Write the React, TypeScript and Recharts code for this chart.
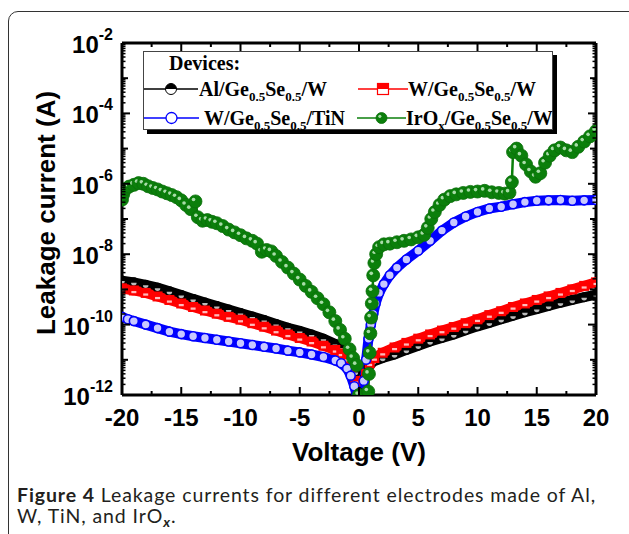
import React from "react";
import { LineChart, Line, XAxis, YAxis, Legend } from "recharts";

const SANS = '"Liberation Sans", Arial, sans-serif';
const SERIF = '"Liberation Serif", "Times New Roman", serif';

// voltage (V) and log10 of leakage current (A)
const alV = [-20, -19, -18, -17, -16, -15, -14, -13, -12, -11, -10, -9, -8, -7, -6, -5, -4, -3, -2, -1.5, -1, -0.6, -0.3, -0.1, 0.2, 0.5, 0.8, 1.2, 2, 3, 4, 5, 6, 7, 8, 9, 10, 11, 12, 13, 14, 15, 16, 17, 18, 19, 20];
const alLog = [-8.75, -8.8, -8.87, -8.95, -9.05, -9.16, -9.27, -9.37, -9.47, -9.57, -9.67, -9.77, -9.87, -9.98, -10.09, -10.18, -10.28, -10.4, -10.55, -10.65, -10.8, -11.0, -11.35, -11.9, -12, -11.5, -11.2, -11.05, -10.95, -10.85, -10.72, -10.6, -10.48, -10.38, -10.28, -10.16, -10.05, -9.95, -9.85, -9.75, -9.65, -9.56, -9.47, -9.38, -9.3, -9.22, -9.15];

const wV = [-20, -19, -18, -17, -16, -15, -14, -13, -12, -11, -10, -9, -8, -7, -6, -5, -4, -3, -2, -1.5, -1, -0.6, -0.3, -0.1, 0.3, 0.6, 0.9, 1.3, 2, 3, 4, 5, 6, 7, 8, 9, 10, 11, 12, 13, 14, 15, 16, 17, 18, 19, 20];
const wLog = [-8.97, -9.03, -9.1, -9.2, -9.3, -9.4, -9.5, -9.6, -9.69, -9.78, -9.86, -9.96, -10.06, -10.17, -10.28, -10.38, -10.48, -10.6, -10.72, -10.82, -10.97, -11.2, -11.6, -12, -12, -11.4, -11.1, -10.95, -10.8, -10.65, -10.52, -10.4, -10.28, -10.17, -10.07, -9.96, -9.85, -9.73, -9.62, -9.5, -9.4, -9.3, -9.2, -9.1, -9.0, -8.9, -8.8];

const tinV = [-20, -19.5, -19, -18, -17, -16, -15, -14, -13, -12, -11, -10, -9, -8, -7, -6, -5, -4, -3, -2, -1.5, -1, -0.7, -0.4, -0.2, 0.2, 0.4, 0.6, 0.8, 1.0, 1.2, 1.4, 1.7, 2.1, 2.6, 3.2, 4, 5, 6, 7, 8, 9, 10, 11, 12, 13, 14, 15, 16, 17, 18, 19, 20];
const tinLog = [-9.78, -9.85, -9.9, -10.0, -10.1, -10.2, -10.27, -10.33, -10.38, -10.43, -10.48, -10.53, -10.58, -10.63, -10.68, -10.74, -10.79, -10.85, -10.92, -11.02, -11.1, -11.25, -11.45, -11.75, -12, -12, -11.6, -11.0, -10.4, -10.0, -9.7, -9.4, -9.1, -8.85, -8.6, -8.38, -8.15, -7.9, -7.62, -7.33, -7.1, -6.93, -6.8, -6.7, -6.65, -6.58, -6.52, -6.48, -6.47, -6.46, -6.48, -6.47, -6.46];

const irV = [-20, -19.9, -19.7, -19.4, -19, -18.6, -18.2, -17.8, -17.4, -17, -16.6, -16.2, -15.8, -15.4, -15, -14.6, -14.2, -13.8, -13.6, -13.2, -12.8, -12.4, -12, -11.5, -11, -10.5, -10, -9.5, -9, -8.6, -8.2, -7.8, -7.4, -7, -6.5, -6, -5.5, -5, -4.5, -4, -3.5, -3, -2.5, -2, -1.6, -1.2, -0.8, -0.5, -0.2, 0, 0.78, 0.84, 0.9, 0.96, 1.02, 1.08, 1.14, 1.2, 1.3, 1.45, 1.7, 2.1, 2.6, 3.2, 3.8, 4.4, 5, 5.5, 5.8, 6.1, 6.4, 6.8, 7.2, 7.7, 8.2, 8.8, 9.4, 10, 10.6, 11.2, 11.8, 12.3, 12.7, 12.9, 13, 13.3, 13.7, 14.1, 14.5, 14.9, 15.3, 15.7, 16.1, 16.5, 17, 17.5, 18, 18.5, 19, 19.5, 20];
const irLog = [-6.45, -6.3, -6.15, -6.08, -6.03, -5.98, -6.0, -6.07, -6.12, -6.16, -6.22, -6.27, -6.32, -6.38, -6.47, -6.6, -6.72, -6.5, -6.95, -7.05, -7.03, -7.08, -7.12, -7.2, -7.3, -7.38, -7.46, -7.55, -7.62, -7.7, -7.93, -7.88, -7.92, -8.05, -8.22, -8.38, -8.55, -8.72, -8.9, -9.07, -9.25, -9.42, -9.65, -9.9, -10.15, -10.4, -10.7, -10.95, -11.15, -12, -11.9, -11.4, -10.8, -10.25, -9.8, -9.4, -9.05, -8.6, -8.25, -8.0, -7.8, -7.72, -7.7, -7.66, -7.62, -7.58, -7.52, -7.45, -7.25, -7.0, -6.8, -6.6, -6.45, -6.35, -6.3, -6.26, -6.23, -6.22, -6.2, -6.24, -6.26, -6.28, -6.25, -5.95, -5.1, -5.0, -5.2, -5.45, -5.65, -5.8, -5.7, -5.4, -5.2, -5.05, -4.97, -5.05, -5.1, -4.95, -4.8, -4.65, -4.5];

const xTicks = [-20, -17.5, -15, -12.5, -10, -7.5, -5, -2.5, 0, 2.5, 5, 7.5, 10, 12.5, 15, 17.5, 20];
const yExps = [-12, -11, -10, -9, -8, -7, -6, -5, -4, -3];

const toRows = (vs: number[], logs: number[]) =>
  vs.map((v, k) => ({ v, i: Math.pow(10, logs[k]) }));

const alData = toRows(alV, alLog);
const wData = toRows(wV, wLog);
const tinData = toRows(tinV, tinLog);
const irData = toRows(irV, irLog);

const yTicks: number[] = [];
yExps.forEach((e) => {
  for (let k = 1; k <= 9; k++) yTicks.push(k * Math.pow(10, e));
});
yTicks.push(1e-2);

const decadeOf = (val: number) => {
  const lg = Math.log10(val);
  const n = Math.round(lg);
  return { n, decade: Math.abs(lg - n) < 1e-6 };
};

const BottomTick = (p: any) => {
  const { x, y, payload } = p;
  const ay = y - 14;
  const major = Math.abs(payload.value % 5) < 1e-9;
  return (
    <g>
      <line x1={x} x2={x} y1={ay} y2={ay - (major ? 8 : 4)} stroke="#000" strokeWidth={2} />
      {major && (
        <text x={x} y={ay + 31} textAnchor="middle" fontFamily={SANS} fontWeight="bold" fontSize={24} fill="#000">
          {payload.value}
        </text>
      )}
    </g>
  );
};

const TopTick = (p: any) => {
  const { x, y, payload } = p;
  const major = Math.abs(payload.value % 5) < 1e-9;
  return <line x1={x} x2={x} y1={y} y2={y + (major ? 8 : 4)} stroke="#000" strokeWidth={2} />;
};

const LeftTick = (p: any) => {
  const { x, y, payload } = p;
  const ax = x + 9;
  const { n, decade } = decadeOf(payload.value);
  const len = decade ? (n % 2 === 0 ? 8 : 6) : 3.5;
  return (
    <g>
      <line x1={ax} x2={ax + len} y1={y} y2={y} stroke="#000" strokeWidth={decade ? 2 : 1.5} />
      {decade && n % 2 === 0 && (
        <text x={x} y={y + 10} textAnchor="end" fontFamily={SANS} fontWeight="bold" fontSize={24} fill="#000">
          10<tspan dy={-13} fontSize={16}>{n}</tspan>
        </text>
      )}
    </g>
  );
};

const RightTick = (p: any) => {
  const { x, y, payload } = p;
  const { n, decade } = decadeOf(payload.value);
  const len = decade ? (n % 2 === 0 ? 8 : 6) : 3.5;
  return <line x1={x} x2={x - len} y1={y} y2={y} stroke="#000" strokeWidth={decade ? 2 : 1.5} />;
};

// markers used on the curves (dense, mostly filled so the bands read solid)
const alMark = (cx: number, cy: number, r: number) => (
  <>
    <circle cx={cx} cy={cy} r={r} fill="#000" />
    <path d={`M${cx - r * 0.55},${cy + 0.5} A${r * 0.55},${r * 0.55} 0 0 0 ${cx + r * 0.55},${cy + 0.5} Z`} fill="#bbb" />
  </>
);
const wMark = (cx: number, cy: number, r: number) => (
  <>
    <rect x={cx - r} y={cy - r} width={2 * r} height={2 * r} fill="#f00" />
    <rect x={cx - r * 0.5} y={cy + 0.5} width={r} height={r * 0.45} fill="#fbb" />
  </>
);
const tinMark = (cx: number, cy: number, r: number) => (
  <circle cx={cx} cy={cy} r={r} fill="#c8c8ff" stroke="#0000ff" strokeWidth={1.6} />
);

// markers used in the legend
const halfCircle = (cx: number, cy: number, r: number) => (
  <>
    <circle cx={cx} cy={cy} r={r} fill="#fff" stroke="#000" strokeWidth={1} />
    <path d={`M${cx - r},${cy} A${r},${r} 0 0 1 ${cx + r},${cy} Z`} fill="#000" />
  </>
);
const halfSquare = (cx: number, cy: number, r: number) => (
  <>
    <rect x={cx - r} y={cy - r} width={2 * r} height={2 * r} fill="#fff" stroke="#f00" strokeWidth={1.2} />
    <rect x={cx - r} y={cy - r} width={2 * r} height={r} fill="#f00" />
  </>
);
const openCircle = (cx: number, cy: number, r: number) => (
  <circle cx={cx} cy={cy} r={r} fill="#fff" stroke="#0000ff" strokeWidth={1.3} />
);
const ball = (cx: number, cy: number, r: number) => (
  <>
    <circle cx={cx} cy={cy} r={r} fill="#0b7f0b" stroke="#0a6e0a" strokeWidth={0.8} />
    <circle cx={cx - r * 0.3} cy={cy - r * 0.3} r={r * 0.28} fill="#a8dca8" />
  </>
);

const dotWith = (draw: (cx: number, cy: number, r: number) => React.ReactNode, r: number) => (p: any) => {
  if (p.cx == null || p.cy == null) return <g key={p.index} />;
  return <g key={p.index}>{draw(p.cx, p.cy, r)}</g>;
};

const Sub = ({ children }: { children: React.ReactNode }) => (
  <span style={{ fontSize: 13, position: "relative", top: 5 }}>{children}</span>
);

const Entry = ({ left, top, lineW, gap, color, mark, children }: any) => (
  <div style={{ position: "absolute", left, top, height: 24, display: "flex", alignItems: "center", whiteSpace: "nowrap" }}>
    <svg width={lineW} height={16} style={{ display: "block", marginRight: gap }}>
      <line x1={0} x2={lineW} y1={8} y2={8} stroke={color} strokeWidth={1.5} />
      {mark(lineW / 2, 8, 5.5)}
    </svg>
    <span>{children}</span>
  </div>
);

const LegendBox = () => (
  <div
    style={{
      position: "relative",
      width: 410,
      height: 79,
      boxSizing: "border-box",
      background: "#fff",
      border: "1px solid #444",
      boxShadow: "4px 4px 0 #000",
      fontFamily: SERIF,
      fontWeight: "bold",
      fontSize: 20,
      color: "#000",
    }}
  >
    <div style={{ position: "absolute", left: 25, top: -1, lineHeight: "24px" }}>Devices:</div>
    <Entry left={0} top={25} lineW={54} gap={1} color="#000" mark={halfCircle}>
      Al/Ge<Sub>0.5</Sub>Se<Sub>0.5</Sub>/W
    </Entry>
    <Entry left={214} top={25} lineW={50} gap={0} color="#f00" mark={halfSquare}>
      W/Ge<Sub>0.5</Sub>Se<Sub>0.5</Sub>/W
    </Entry>
    <Entry left={0} top={54} lineW={55} gap={5} color="#0000ff" mark={openCircle}>
      W/Ge<Sub>0.5</Sub>Se<Sub>0.5</Sub>/TiN
    </Entry>
    <Entry left={213} top={54} lineW={49} gap={0} color="#0b7f0b" mark={ball}>
      IrO<Sub>x</Sub>/Ge<Sub>0.5</Sub>Se<Sub>0.5</Sub>/W
    </Entry>
  </div>
);

const axisLine = { stroke: "#000", strokeWidth: 3 };

const captionLine = {
  position: "absolute" as const,
  left: 17,
  height: 20,
  lineHeight: "20px",
  whiteSpace: "nowrap" as const,
};

const App = () => (
  <div style={{ position: "absolute", left: 0, top: 0, width: 629, height: 534, overflow: "hidden", background: "#fff" }}>
    <div
      style={{
        position: "absolute",
        left: 8,
        top: 11,
        width: 700,
        height: 600,
        border: "1.5px solid #333",
        borderRadius: 10,
      }}
    />
    <div style={{ position: "absolute", left: 0, top: 0 }}>
      <LineChart width={629} height={534} margin={{ top: 13, right: 20, bottom: 69, left: 22 }}>
        <XAxis
          xAxisId="b"
          dataKey="v"
          type="number"
          domain={[-20, 20]}
          allowDataOverflow
          ticks={xTicks}
          interval={0}
          height={70}
          tickSize={0}
          tickMargin={14}
          tickLine={false}
          axisLine={axisLine}
          tick={<BottomTick />}
          label={{
            content: (p: any) => (
              <text
                x={p.viewBox.x + p.viewBox.width / 2}
                y={p.viewBox.y + 66}
                textAnchor="middle"
                fontFamily={SANS}
                fontWeight="bold"
                fontSize={26}
                fill="#000"
              >
                Voltage (V)
              </text>
            ),
          }}
        />
        <XAxis
          xAxisId="t"
          orientation="top"
          dataKey="v"
          type="number"
          domain={[-20, 20]}
          allowDataOverflow
          ticks={xTicks}
          interval={0}
          height={30}
          tickSize={0}
          tickMargin={0}
          tickLine={false}
          axisLine={axisLine}
          tick={<TopTick />}
        />
        <YAxis
          yAxisId="l"
          type="number"
          scale="log"
          domain={[1e-12, 1e-2]}
          allowDataOverflow
          ticks={yTicks}
          interval={0}
          width={100}
          tickSize={0}
          tickMargin={9}
          tickLine={false}
          axisLine={axisLine}
          tick={<LeftTick />}
          label={{
            content: (p: any) => {
              const x = p.viewBox.x + 33;
              const y = p.viewBox.y + p.viewBox.height / 2 - 6;
              return (
                <text
                  x={x}
                  y={y}
                  transform={`rotate(-90, ${x}, ${y})`}
                  textAnchor="middle"
                  fontFamily={SANS}
                  fontWeight="bold"
                  fontSize={26}
                  fill="#000"
                >
                  Leakage current (A)
                </text>
              );
            },
          }}
        />
        <YAxis
          yAxisId="r"
          orientation="right"
          type="number"
          scale="log"
          domain={[1e-12, 1e-2]}
          allowDataOverflow
          ticks={yTicks}
          interval={0}
          width={13}
          tickSize={0}
          tickMargin={0}
          tickLine={false}
          axisLine={axisLine}
          tick={<RightTick />}
        />
        <Legend
          layout="horizontal"
          verticalAlign="middle"
          align="center"
          wrapperStyle={{ left: 143, top: 51, width: 410, height: 79 }}
          content={() => <LegendBox />}
        />
        <Line
          xAxisId="b"
          yAxisId="l"
          data={alData}
          dataKey="i"
          name="Al/Ge0.5Se0.5/W"
          type="linear"
          stroke="#000"
          strokeWidth={10}
          dot={dotWith(alMark, 5)}
          isAnimationActive={false}
        />
        <Line
          xAxisId="b"
          yAxisId="l"
          data={wData}
          dataKey="i"
          name="W/Ge0.5Se0.5/W"
          type="linear"
          stroke="#f00"
          strokeWidth={10}
          dot={dotWith(wMark, 5)}
          isAnimationActive={false}
        />
        <Line
          xAxisId="b"
          yAxisId="l"
          data={tinData}
          dataKey="i"
          name="W/Ge0.5Se0.5/TiN"
          type="linear"
          stroke="#0000ff"
          strokeWidth={10}
          dot={dotWith(tinMark, 4.5)}
          isAnimationActive={false}
        />
        <Line
          xAxisId="b"
          yAxisId="l"
          data={irData}
          dataKey="i"
          name="IrOx/Ge0.5Se0.5/W"
          type="linear"
          stroke="#0b7f0b"
          strokeWidth={2.5}
          dot={dotWith(ball, 6.5)}
          isAnimationActive={false}
        />
      </LineChart>
    </div>
    <div
      style={{
        fontFamily: 'Lato, "Open Sans", sans-serif',
        fontSize: 19.5,
        letterSpacing: 0.9,
        color: "#231f20",
      }}
    >
      <div style={{ ...captionLine, top: 485 }}>
        <b>Figure 4</b> Leakage currents for different electrodes made of Al,
      </div>
      <div style={{ ...captionLine, top: 506 }}>
        W, TiN, and IrO
        <span style={{ fontStyle: "italic", fontWeight: "bold", fontSize: 14, position: "relative", top: 4 }}>x</span>.
      </div>
    </div>
  </div>
);

export default App;
